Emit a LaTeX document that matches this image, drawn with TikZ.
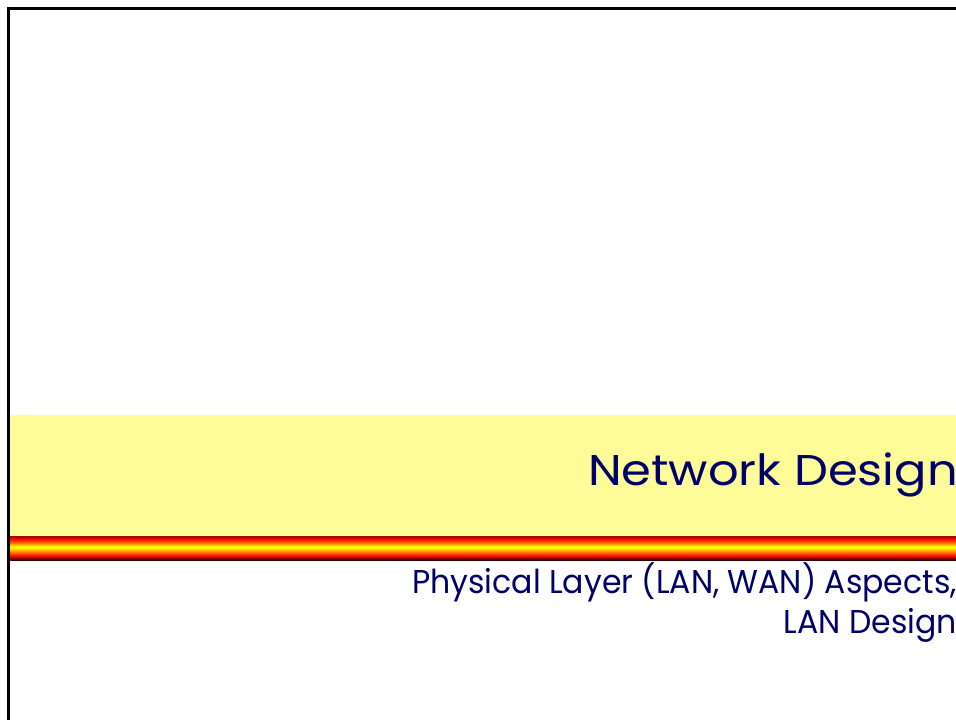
\documentclass[tikz,border=0pt]{standalone}
\usepackage{fontspec}
\setmainfont{Poppins}
\definecolor{navy}{RGB}{0,0,102}
\definecolor{bandyellow}{RGB}{253,252,153}
\pgfdeclareverticalshading{stripe}{100bp}{
 color(0bp)=(black!80!red);
 color(25bp)=(black!80!red);
 color(29bp)=(red!60!black);
 color(35bp)=(red!90!yellow);
 color(42bp)=(orange);
 color(50bp)=(yellow!90!orange);
 color(54bp)=(yellow!90!orange);
 color(60bp)=(orange);
 color(67bp)=(red!90!yellow);
 color(73bp)=(red!75!black);
 color(75bp)=(red!60!black);
 color(100bp)=(red!60!black)}
\tikzset{
  titletext/.style={text=navy, inner sep=0pt, font=\fontsize{43}{50}\selectfont},
  subtext/.style={text=navy, inner sep=0pt, font=\fontsize{33}{40}\selectfont}
}
\begin{document}
\begin{tikzpicture}[x=1pt,y=-1pt]
\useasboundingbox (0,0) rectangle (956,720);
\clip (0,0) rectangle (956,720);
\fill[white] (0,0) rectangle (956,720);
\fill[bandyellow] (8,415) rectangle (960,536);
\shade[shading=stripe] (7,536) rectangle (960,560);
\draw[line width=3pt] (8.5,730) -- (8.5,8.5) -- (970,8.5);
\node[titletext, anchor=base east] (title) at (958,485) {\scalebox{1.115}[1]{Network Design}};
\node[subtext, anchor=base east] (sub1) at (957,593) {\scalebox{0.956}[1]{Physical Layer (LAN, WAN) Aspects,}};
\node[subtext, anchor=base east] (sub2) at (957,633) {\scalebox{0.956}[1]{LAN Design}};
\end{tikzpicture}
\end{document}
